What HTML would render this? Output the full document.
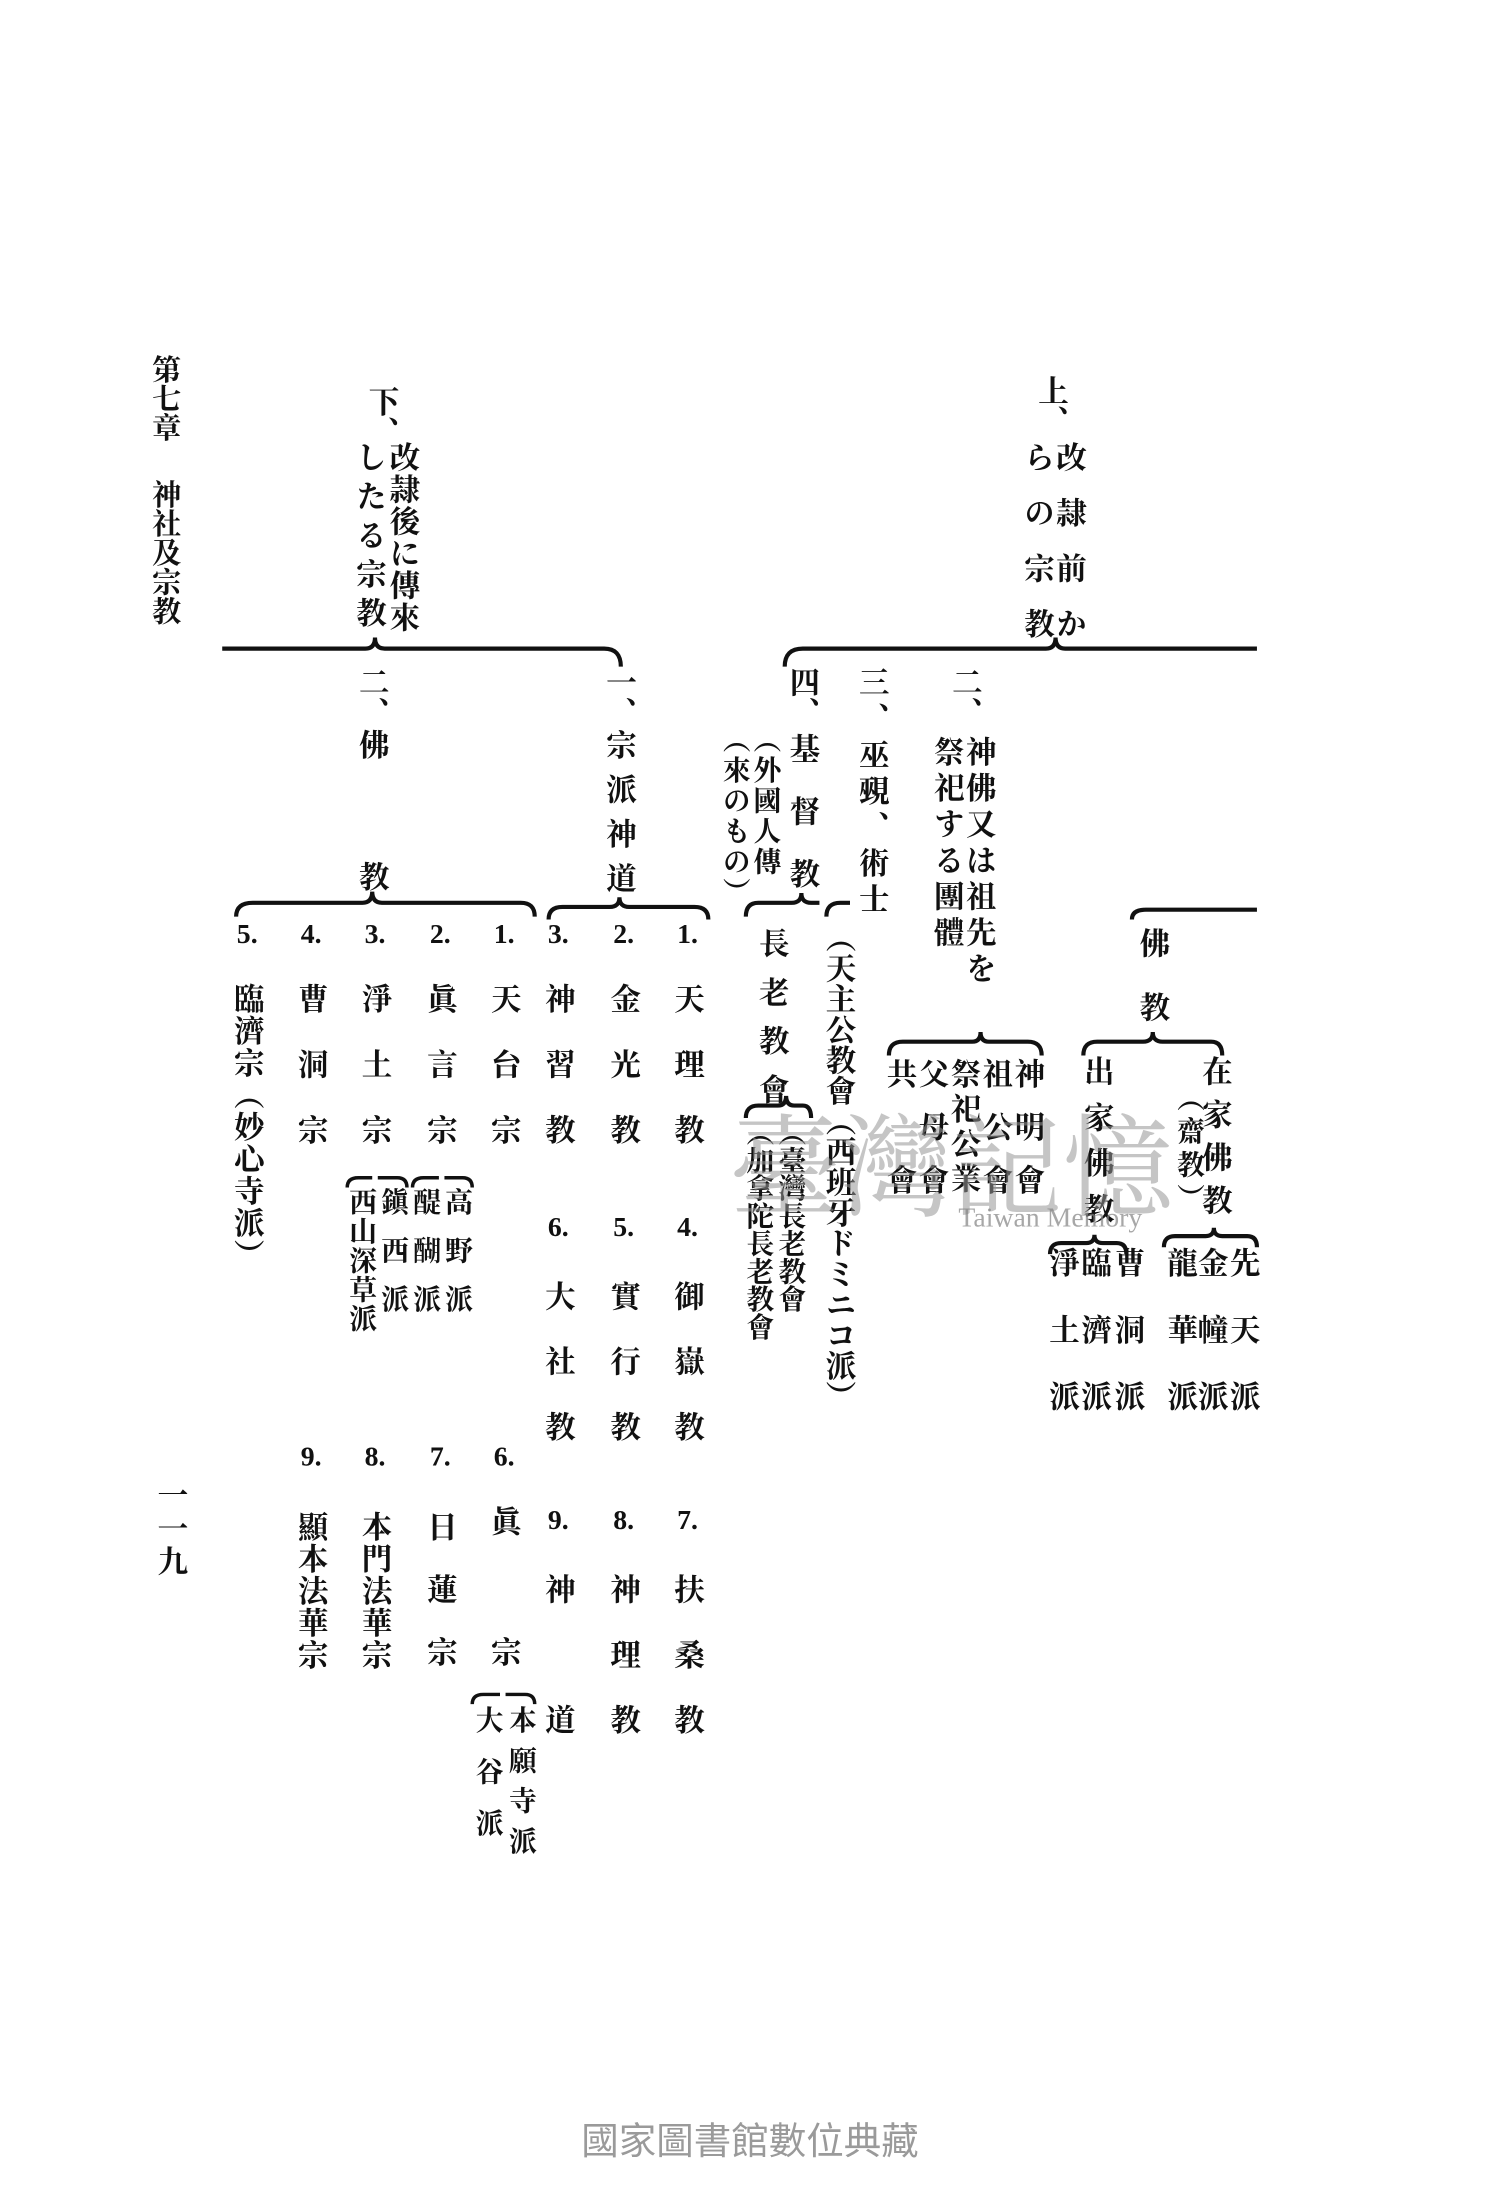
<!DOCTYPE html>
<html><head><meta charset="utf-8"><style>
html,body{margin:0;padding:0;background:#fff;}
#pg{position:relative;width:1500px;height:2200px;overflow:hidden;background:#fff;}
#s{position:absolute;left:0;top:0;width:1080px;height:1584px;transform:scale(1.38889);transform-origin:0 0;}
.c{position:absolute;writing-mode:vertical-rl;font-family:"Liberation Serif","Noto Serif CJK SC","Noto Sans CJK JP",serif;font-weight:bold;font-size:22px;line-height:22px;color:#111;white-space:nowrap;}
.n{position:absolute;font-family:"Liberation Serif",serif;font-weight:bold;font-size:20px;color:#111;width:30px;text-align:center;}
.sm{font-size:20px;line-height:20px;}
svg{position:absolute;left:0;top:0;}
</style></head><body><div id="pg"><div id="s">
<svg width="1080" height="1584" viewBox="0 0 1080 1584" fill="none" stroke="#111" stroke-width="3">
<path d="M565,480 Q565,467 578,467 L753,467 Q760,467 760,459 Q760,467 767,467 L905,467"/>
<path d="M160,467 L263,467 Q270,467 270,459 Q270,467 277,467 L435,467 Q447,467 447,480"/>
<path d="M815,662 Q815,655 825,655 L905,655"/>
<path d="M780,760 Q780,750 790,750 L823,750 Q830,750 830,743 Q830,750 837,750 L872,750 Q880,750 880,760"/>
<path d="M838,898 Q838,890 846,890 L868,890 Q874,890 874,884 Q874,890 880,890 L898,890 Q905,890 905,898"/>
<path d="M756,903 Q756,895 764,895 L782,895 Q788,895 788,889 Q788,895 794,895 L804,895 Q811,895 811,903"/>
<path d="M640,760 Q640,750 650,750 L700,750 Q706,750 706,743 Q706,750 712,750 L740,750 Q750,750 750,760"/>
<path d="M537,660 Q537,650 546,650 L570,650 Q577,650 577,643 Q577,650 584,650 L590,650"/>
<path d="M595,660 Q595,650 605,650 L612,650"/>
<path d="M537,805 Q537,796 546,796 L560,796 Q566,796 566,789 Q566,796 572,796 L578,796 Q584,796 584,805"/>
<path d="M170,660 Q170,650 182,650 L261,650 Q268,650 268,642 Q268,650 275,650 L375,650 Q385,650 385,660"/>
<path d="M395,662 Q395,653 405,653 L439,653 Q446,653 446,646 Q446,653 453,653 L500,653 Q510,653 510,662"/>
<path d="M297,855 Q297,848 305,848 L316,848 M320,848 L333,848 Q340,848 340,855" stroke-width="2.5"/>
<path d="M250,855 Q250,848 258,848 L268,848 M272,848 L286,848 Q293,848 293,855" stroke-width="2.5"/>
<path d="M340,1227 Q340,1220 348,1220 L360,1220 M364,1220 L378,1220 Q385,1220 385,1227" stroke-width="2.5"/>
</svg>

<div class="c" style="left:108px;top:255px;letter-spacing:0px;font-size:21px">第七章</div>
<div class="c" style="left:108px;top:345px;font-size:21px;line-height:21px">神社及宗教</div>
<div class="c" style="left:112px;top:1065px;letter-spacing:2px">一一九</div>

<div class="c" style="left:746px;top:270px">上、</div>
<div class="c" style="left:759px;top:318px;letter-spacing:18px">改隷前か</div>
<div class="c" style="left:736px;top:318px;letter-spacing:18px">らの宗教</div>

<div class="c" style="left:684px;top:480px">二、</div>
<div class="c" style="left:694px;top:530px;letter-spacing:4px">神佛又は祖先を</div>
<div class="c" style="left:671px;top:530px;letter-spacing:4px">祭祀する團體</div>
<div class="c" style="left:617px;top:480px;letter-spacing:4px">三、巫覡、術士</div>
<div class="c" style="left:567px;top:480px">四、</div>
<div class="c" style="left:567px;top:528px;letter-spacing:23px">基督教</div>
<div class="c sm" style="left:540px;top:522px;letter-spacing:2px">（外國人傳</div>
<div class="c sm" style="left:518px;top:522px;letter-spacing:2px">（來のもの）</div>

<div class="c" style="left:593px;top:664px;line-height:22px;letter-spacing:0px">（天主公教會（西班牙ドミニコ派）</div>
<div class="c" style="left:545px;top:668px;letter-spacing:13px">長老教會</div>
<div class="c sm" style="left:558px;top:805px;letter-spacing:0px">（臺灣長老教會</div>
<div class="c sm" style="left:535px;top:805px;letter-spacing:0px">（加拿陀長老教會</div>

<div class="c" style="left:729px;top:762px;letter-spacing:16px">神明會</div>
<div class="c" style="left:706px;top:762px;letter-spacing:16px">祖公會</div>
<div class="c" style="left:683px;top:762px;letter-spacing:3px">祭祀公業</div>
<div class="c" style="left:660px;top:762px;letter-spacing:16px">父母會</div>
<div class="c" style="left:637px;top:762px;letter-spacing:54px">共會</div>

<div class="c" style="left:819px;top:668px;letter-spacing:24px">佛教</div>
<div class="c" style="left:864px;top:760px;letter-spacing:9px">在家佛教</div>
<div class="c sm" style="left:845px;top:780px;letter-spacing:4px">（齋教）</div>
<div class="c" style="left:779px;top:760px;letter-spacing:11px">出家佛教</div>
<div class="c" style="left:884px;top:898px;letter-spacing:26px">先天派</div>
<div class="c" style="left:861px;top:898px;letter-spacing:26px">金幢派</div>
<div class="c" style="left:839px;top:898px;letter-spacing:26px">龍華派</div>
<div class="c" style="left:801px;top:898px;letter-spacing:26px">曹洞派</div>
<div class="c" style="left:777px;top:898px;letter-spacing:26px">臨濟派</div>
<div class="c" style="left:754px;top:898px;letter-spacing:26px">淨土派</div>

<div class="c" style="left:264px;top:278px">下、</div>
<div class="c" style="left:279px;top:318px;letter-spacing:1px">改隷後に傳來</div>
<div class="c" style="left:255px;top:318px;letter-spacing:6px">したる宗教</div>

<div class="c" style="left:435px;top:480px">一、</div>
<div class="c" style="left:435px;top:525px;letter-spacing:10px">宗派神道</div>
<div class="c" style="left:257px;top:480px">二、</div>
<div class="c" style="left:257px;top:525px;letter-spacing:73px">佛教</div>

<div class="n" style="left:480px;top:662px">1.</div>
<div class="n" style="left:434px;top:662px">2.</div>
<div class="n" style="left:387px;top:662px">3.</div>
<div class="c" style="left:484px;top:708px;letter-spacing:25px">天理教</div>
<div class="c" style="left:438px;top:708px;letter-spacing:25px">金光教</div>
<div class="c" style="left:391px;top:708px;letter-spacing:25px">神習教</div>
<div class="n" style="left:480px;top:873px">4.</div>
<div class="n" style="left:434px;top:873px">5.</div>
<div class="n" style="left:387px;top:873px">6.</div>
<div class="c" style="left:484px;top:922px;letter-spacing:25px">御嶽教</div>
<div class="c" style="left:438px;top:922px;letter-spacing:25px">實行教</div>
<div class="c" style="left:391px;top:922px;letter-spacing:25px">大社教</div>
<div class="n" style="left:480px;top:1084px">7.</div>
<div class="n" style="left:434px;top:1084px">8.</div>
<div class="n" style="left:387px;top:1084px">9.</div>
<div class="c" style="left:484px;top:1133px;letter-spacing:25px">扶桑教</div>
<div class="c" style="left:438px;top:1133px;letter-spacing:25px">神理教</div>
<div class="c" style="left:391px;top:1133px;letter-spacing:72px">神道</div>

<div class="n" style="left:348px;top:662px">1.</div>
<div class="n" style="left:302px;top:662px">2.</div>
<div class="n" style="left:255px;top:662px">3.</div>
<div class="n" style="left:209px;top:662px">4.</div>
<div class="n" style="left:163px;top:662px">5.</div>
<div class="c" style="left:352px;top:708px;letter-spacing:25px">天台宗</div>
<div class="c" style="left:306px;top:708px;letter-spacing:25px">眞言宗</div>
<div class="c" style="left:259px;top:708px;letter-spacing:25px">淨土宗</div>
<div class="c" style="left:213px;top:708px;letter-spacing:25px">曹洞宗</div>
<div class="c" style="left:167px;top:708px;letter-spacing:1px">臨濟宗（妙心寺派）</div>
<div class="c sm" style="left:318px;top:855px;letter-spacing:15px">高野派</div>
<div class="c sm" style="left:295px;top:855px;letter-spacing:15px">醍醐派</div>
<div class="c sm" style="left:272px;top:855px;letter-spacing:15px">鎭西派</div>
<div class="c sm" style="left:249px;top:855px;letter-spacing:1px">西山深草派</div>

<div class="n" style="left:348px;top:1038px">6.</div>
<div class="n" style="left:302px;top:1038px">7.</div>
<div class="n" style="left:255px;top:1038px">8.</div>
<div class="n" style="left:209px;top:1038px">9.</div>
<div class="c" style="left:352px;top:1084px;letter-spacing:72px">眞宗</div>
<div class="c" style="left:306px;top:1088px;letter-spacing:23px">日蓮宗</div>
<div class="c" style="left:259px;top:1088px;letter-spacing:1px">本門法華宗</div>
<div class="c" style="left:213px;top:1088px;letter-spacing:1px">顯本法華宗</div>
<div class="c sm" style="left:364px;top:1228px;letter-spacing:9px">本願寺派</div>
<div class="c sm" style="left:340px;top:1228px;letter-spacing:17px">大谷派</div>

<div style="position:absolute;left:525px;top:790px;font-family:'Noto Serif CJK SC',serif;font-size:80px;line-height:90px;color:rgba(150,150,150,0.55);white-space:nowrap">臺灣記憶</div>
<div style="position:absolute;left:690px;top:866px;font-family:'Liberation Serif',serif;font-size:20px;color:rgba(130,130,130,0.7)">Taiwan Memory</div>

<div style="position:absolute;left:0;width:1080px;top:1520px;text-align:center;font-family:'Noto Sans CJK TC',sans-serif;font-size:27px;color:#9a9a9a">國家圖書館數位典藏</div>
</div></div></body></html>
